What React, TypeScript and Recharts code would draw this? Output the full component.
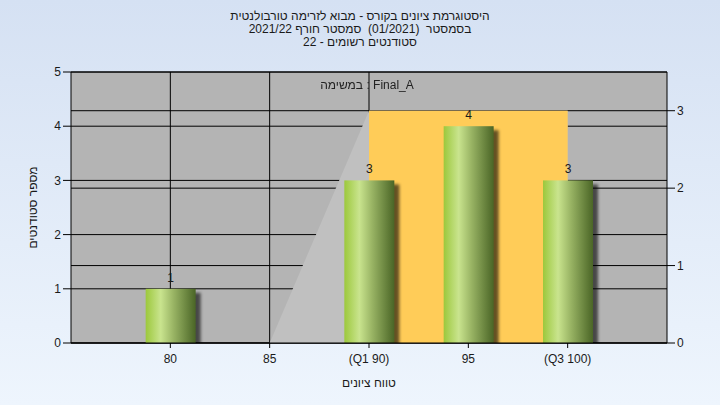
import React from "react";
import {
  ComposedChart,
  Bar,
  Area,
  XAxis,
  YAxis,
  CartesianGrid,
  LabelList,
  Label,
} from "recharts";

const scores = [80, 85, 90, 95, 100];
const scoreLabels = ["80", "85", "(Q1 90)", "95", "(Q3 100)"];
const studentCounts = [1, 0, 3, 4, 3];
const curveValues: (number | null)[] = [null, 0, 3, 3, 3];
const quartileBand: (number | null)[] = [null, null, 3, 3, 3];
const leftTicks = [0, 1, 2, 3, 4, 5];
const rightTicks = [0, 1, 2, 3];
const verticalGridScores = [80, 85, 90];

const titleLines = [
  "היסטוגרמת ציונים בקורס - מבוא לזרימה טורבולנטית",
  "בסמסטר  (01/2021)  סמסטר חורף 2021/22",
  "סטודנטים רשומים - 22",
];
const assignmentText = "במשימה : Final_A";
const xTitle = "טווח ציונים";
const yTitle = "מספר סטודנטים";

const data = scores.map((s, i) => ({
  score: s,
  count: studentCounts[i],
  curve: curveValues[i],
  band: quartileBand[i],
}));

const FONT = "'Liberation Sans', Arial, sans-serif";

const BarShape = (props: any) => {
  const { x, y, width, height } = props;
  if (!height || height <= 0) return null;
  return (
    <g>
      <rect
        x={x + 5}
        y={y + 4}
        width={width}
        height={height}
        fill="#000"
        opacity={0.6}
        filter="url(#barShadow)"
      />
      <rect x={x} y={y} width={width} height={height} fill="url(#barGrad)" />
    </g>
  );
};

const vGen = (props: any) => {
  const s = props?.xAxis?.scale;
  return verticalGridScores.map((v) => {
    if (typeof s === "function") return s(v);
    if (s && typeof s.map === "function") return s.map(v);
    const off = props.offset;
    return off.left + ((v - 75) / 30) * off.width;
  });
};

export default function App() {
  return (
    <div
      style={{
        position: "fixed",
        left: 0,
        top: 0,
        width: 720,
        height: 405,
        background: "linear-gradient(to bottom, #d5e1f3 0%, #eef5fd 100%)",
        fontFamily: FONT,
        color: "#1a1a1a",
      }}
    >
      <div
        dir="rtl"
        style={{
          position: "absolute",
          left: 0,
          top: 10,
          width: 720,
          textAlign: "center",
          fontSize: 12,
          lineHeight: "13px",
          whiteSpace: "pre",
        }}
      >
        {titleLines.map((t, i) => (
          <div key={i}>{t}</div>
        ))}
      </div>
      <div style={{ position: "absolute", left: 0, top: 0 }}>
        <ComposedChart
          width={720}
          height={405}
          data={data}
          margin={{ top: 72, right: 23, bottom: 18, left: 0 }}
          style={{ fontFamily: FONT }}
        >
          <defs>
            <linearGradient id="barGrad" x1="0" y1="0" x2="1" y2="0">
              <stop offset="0%" stopColor="#9cc83c" />
              <stop offset="30%" stopColor="#c9e48e" />
              <stop offset="55%" stopColor="#9ab565" />
              <stop offset="100%" stopColor="#4a6526" />
            </linearGradient>
            <filter id="barShadow" x="-20%" y="-20%" width="140%" height="140%">
              <feGaussianBlur stdDeviation="1.5" />
            </filter>
          </defs>
          <CartesianGrid
            yAxisId="left"
            stroke="#000"
            strokeOpacity={1}
            fill="#b4b4b4"
            fillOpacity={1}
            verticalCoordinatesGenerator={vGen}
          />
          <CartesianGrid
            yAxisId="right"
            stroke="#000"
            strokeOpacity={1}
            vertical={false}
          />
          <XAxis
            dataKey="score"
            type="number"
            domain={[75, 105]}
            ticks={scores}
            tickFormatter={(v: number) => scoreLabels[scores.indexOf(v)] ?? String(v)}
            height={44}
            tickSize={5}
            tickMargin={6}
            stroke="#000"
            tick={{ fill: "#1a1a1a", fontSize: 12 }}
            allowDataOverflow
          >
            <Label
              value={xTitle}
              position="insideBottom"
              offset={0}
              style={{ fill: "#1a1a1a", fontSize: 12 }}
            />
          </XAxis>
          <YAxis
            yAxisId="left"
            domain={[0, 5]}
            ticks={leftTicks}
            width={71}
            tickSize={8}
            tickMargin={2}
            stroke="#000"
            tick={{ fill: "#1a1a1a", fontSize: 12 }}
            allowDataOverflow
          >
            <Label
              value={yTitle}
              angle={-90}
              position="center"
              dx={-3}
              style={{ fill: "#1a1a1a", fontSize: 12, textAnchor: "middle" }}
            />
          </YAxis>
          <YAxis
            yAxisId="right"
            orientation="right"
            domain={[0, 3.5]}
            ticks={rightTicks}
            width={30}
            tickSize={8}
            tickMargin={2}
            stroke="#000"
            tick={{ fill: "#1a1a1a", fontSize: 12 }}
            allowDataOverflow
          />
          <Area
            yAxisId="right"
            dataKey="curve"
            type="linear"
            stroke="none"
            fill="#c0c0c0"
            fillOpacity={1}
            dot={false}
            activeDot={false}
            isAnimationActive={false}
          />
          <Area
            yAxisId="right"
            dataKey="band"
            type="linear"
            stroke="none"
            fill="#ffcc58"
            fillOpacity={1}
            dot={false}
            activeDot={false}
            isAnimationActive={false}
          />
          <Bar
            yAxisId="left"
            dataKey="count"
            barSize={50}
            shape={<BarShape />}
            isAnimationActive={false}
          >
            <LabelList
              dataKey="count"
              position="top"
              offset={7}
              fill="#1a1a1a"
              fontSize={12}
              formatter={(v: any) => (v ? String(v) : "")}
            />
          </Bar>
        </ComposedChart>
      </div>
      <div
        style={{
          position: "absolute",
          left: 0,
          top: 78,
          width: 734,
          textAlign: "center",
          fontSize: 12,
          color: "#222",
          zIndex: 2,
          pointerEvents: "none",
        }}
      >
        {assignmentText}
      </div>
    </div>
  );
}
